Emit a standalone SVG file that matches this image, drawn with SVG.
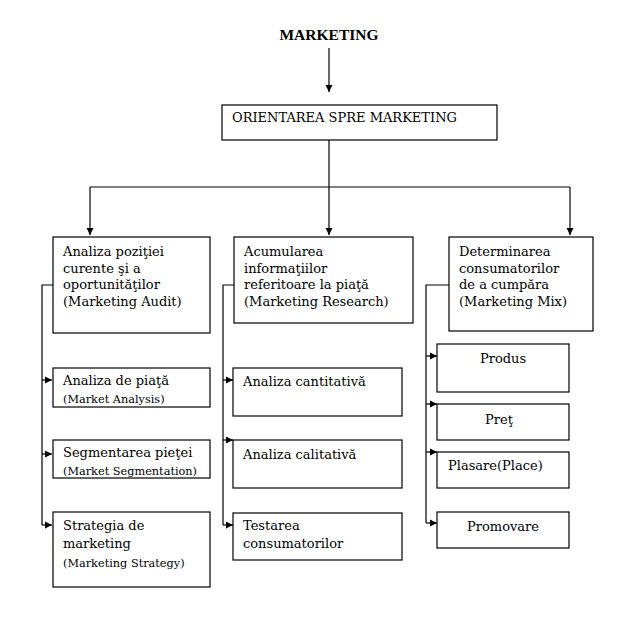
<svg xmlns="http://www.w3.org/2000/svg" width="628" height="627" viewBox="0 0 628 627">
<style>
.b{fill:#fff;stroke:#000;stroke-width:1.2}
.t{font-family:"DejaVu Serif","Liberation Serif",serif;font-size:13px;fill:#000}
.s{font-family:"DejaVu Serif","Liberation Serif",serif;font-size:11.3px;fill:#000}
.c{fill:none;stroke:#000;stroke-width:1.2}
</style>
<defs>
<marker id="a" markerWidth="8" markerHeight="8" refX="7" refY="4" orient="auto" markerUnits="userSpaceOnUse">
<path d="M0,0.5 L7,4 L0,7.5 Z" fill="#000"/>
</marker>
</defs>
<rect width="628" height="627" fill="#fff"/>
<g id="connectors">
<path class="c" d="M329,48 V92" marker-end="url(#a)"/>
<path class="c" d="M329,140 V187"/>
<path class="c" d="M90,187 H570"/>
<path class="c" d="M90,187 V235" marker-end="url(#a)"/>
<path class="c" d="M329,187 V235" marker-end="url(#a)"/>
<path class="c" d="M570,187 V235" marker-end="url(#a)"/>
<path class="c" d="M53,285 H42 V525"/>
<path class="c" d="M42,380 H52" marker-end="url(#a)"/>
<path class="c" d="M42,454 H52" marker-end="url(#a)"/>
<path class="c" d="M42,525 H52" marker-end="url(#a)"/>
<path class="c" d="M234,285 H223 V525"/>
<path class="c" d="M223,380 H233" marker-end="url(#a)"/>
<path class="c" d="M223,440 H233" marker-end="url(#a)"/>
<path class="c" d="M223,525 H233" marker-end="url(#a)"/>
<path class="c" d="M449,285 H426 V523"/>
<path class="c" d="M426,356 H437" marker-end="url(#a)"/>
<path class="c" d="M426,404 H437" marker-end="url(#a)"/>
<path class="c" d="M426,452 H437" marker-end="url(#a)"/>
<path class="c" d="M426,523 H437" marker-end="url(#a)"/>
</g>
<g id="title"><text x="329" y="40" text-anchor="middle" style="font-family:'Liberation Serif',serif;font-size:15.5px;font-weight:bold">MARKETING</text></g>
<g id="orientarea"><rect class="b" x="222" y="105" width="275" height="35"/><text class="t" x="232" y="122">ORIENTAREA SPRE MARKETING</text></g>
<g id="audit"><rect class="b" x="53" y="237" width="157" height="96"/><text class="t" x="63" y="256">Analiza poziţiei</text><text class="t" x="63" y="272.5">curente şi a</text><text class="t" x="63" y="289">oportunităţilor</text><text class="t" x="63" y="305.5">(Marketing Audit)</text></g>
<g id="research"><rect class="b" x="234" y="237" width="179" height="86"/><text class="t" x="244" y="256">Acumularea</text><text class="t" x="244" y="272.5">informaţiilor</text><text class="t" x="244" y="289">referitoare la piaţă</text><text class="t" x="244" y="305.5">(Marketing Research)</text></g>
<g id="mix"><rect class="b" x="449" y="237" width="144" height="94"/><text class="t" x="459" y="256">Determinarea</text><text class="t" x="459" y="272.5">consumatorilor</text><text class="t" x="459" y="289">de a cumpăra</text><text class="t" x="459" y="305.5">(Marketing Mix)</text></g>
<g id="analiza-piata"><rect class="b" x="53" y="368" width="157" height="39"/><text class="t" x="63" y="385">Analiza de piaţă</text><text class="s" x="63" y="403">(Market Analysis)</text></g>
<g id="segmentarea"><rect class="b" x="53" y="440" width="157" height="38"/><text class="t" x="63" y="457">Segmentarea pieţei</text><text class="s" x="63" y="475">(Market Segmentation)</text></g>
<g id="strategia"><rect class="b" x="53" y="512" width="157" height="75"/><text class="t" x="63" y="530">Strategia de</text><text class="t" x="63" y="548">marketing</text><text class="s" x="63" y="567">(Marketing Strategy)</text></g>
<g id="cantitativa"><rect class="b" x="233" y="368" width="169" height="48"/><text class="t" x="243" y="386">Analiza cantitativă</text></g>
<g id="calitativa"><rect class="b" x="233" y="440" width="169" height="48"/><text class="t" x="243" y="459">Analiza calitativă</text></g>
<g id="testarea"><rect class="b" x="233" y="513" width="169" height="47"/><text class="t" x="243" y="530">Testarea</text><text class="t" x="243" y="548">consumatorilor</text></g>
<g id="produs"><rect class="b" x="437" y="344" width="132" height="48"/><text class="t" x="503" y="363" text-anchor="middle">Produs</text></g>
<g id="pret"><rect class="b" x="437" y="404" width="132" height="36"/><text class="t" x="499" y="424" text-anchor="middle">Preţ</text></g>
<g id="plasare"><rect class="b" x="437" y="452" width="132" height="36"/><text class="t" x="448" y="470">Plasare(Place)</text></g>
<g id="promovare"><rect class="b" x="437" y="512" width="132" height="36"/><text class="t" x="503" y="531" text-anchor="middle">Promovare</text></g>
</svg>
